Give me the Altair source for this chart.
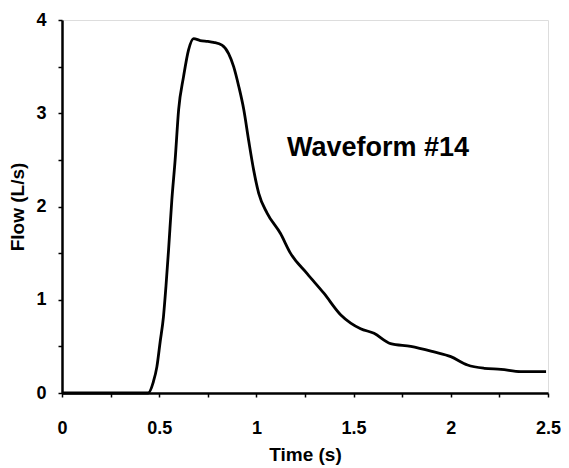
import altair as alt
import pandas as pd

# Flow waveform
time_s = [0.0, 0.1, 0.2, 0.3, 0.4, 0.443, 0.47, 0.488, 0.505, 0.522, 0.535, 0.548,
          0.565, 0.582, 0.6, 0.625, 0.651, 0.677, 0.711, 0.75, 0.78, 0.823, 0.857,
          0.883, 0.909, 0.935, 0.96, 0.986, 1.012, 1.055, 1.124, 1.175, 1.261, 1.347,
          1.433, 1.485, 1.536, 1.605, 1.69, 1.794, 1.914, 2.0, 2.086, 2.172, 2.258,
          2.36, 2.49]
flow_ls = [0.0, 0.0, 0.0, 0.0, 0.0, 0.0, 0.12, 0.28, 0.55, 0.82, 1.15, 1.53,
           2.07, 2.5, 3.04, 3.39, 3.68, 3.8, 3.78, 3.77, 3.76, 3.73, 3.64,
           3.5, 3.29, 3.04, 2.71, 2.39, 2.14, 1.93, 1.71, 1.5, 1.28, 1.07,
           0.84, 0.75, 0.69, 0.64, 0.53, 0.50, 0.44, 0.39, 0.30, 0.265, 0.254,
           0.23, 0.23]

x_ticks = [0, 0.25, 0.5, 0.75, 1, 1.25, 1.5, 1.75, 2, 2.25, 2.5]
y_ticks = [0, 0.5, 1, 1.5, 2, 2.5, 3, 3.5, 4]

label_text = ["Waveform #14"]
label_time = [1.626]
label_flow = [2.63]

FONT = "Liberation Sans"

df = pd.DataFrame({"t": time_s, "f": flow_ls})
lab = pd.DataFrame({"text": label_text, "t": label_time, "f": label_flow})

x_enc = alt.X(
    "t:Q",
    scale=alt.Scale(domain=[0, 2.5], nice=False, zero=False),
    axis=alt.Axis(
        title="Time (s)", values=x_ticks, grid=False,
        labelExpr="datum.value % 0.5 == 0 ? format(datum.value, '~g') : ''",
        tickSize=4, labelPadding=22, titlePadding=8,
        labelFont=FONT, labelFontSize=18, labelFontWeight="bold",
        titleFont=FONT, titleFontSize=19, titleFontWeight="bold",
        domainColor="black", domainWidth=2.5, tickColor="black", tickWidth=1.5,
        labelColor="black", titleColor="black", labelFlush=False,
    ),
)
y_enc = alt.Y(
    "f:Q",
    scale=alt.Scale(domain=[0, 4], nice=False),
    axis=alt.Axis(
        title="Flow (L/s)", values=y_ticks, grid=False,
        labelExpr="datum.value % 1 == 0 ? format(datum.value, '~g') : ''",
        tickSize=4, labelPadding=12, titlePadding=8,
        labelFont=FONT, labelFontSize=18, labelFontWeight="bold",
        titleFont=FONT, titleFontSize=19, titleFontWeight="bold",
        domainColor="black", domainWidth=2.5, tickColor="black", tickWidth=1.5,
        labelColor="black", titleColor="black", labelFlush=False,
    ),
)

line = alt.Chart(df).mark_line(
    color="black", strokeWidth=2.8, interpolate="monotone"
).encode(x=x_enc, y=y_enc)

text = alt.Chart(lab).mark_text(
    font=FONT, fontSize=27, fontWeight="bold", color="black",
    align="center", baseline="middle",
).encode(x="t:Q", y="f:Q", text="text:N")

chart = alt.layer(line, text).properties(
    width=486, height=373,
    autosize=alt.AutoSizeParams(type="none"),
    padding={"left": 54, "top": 12, "right": 13, "bottom": 75},
).configure_view(stroke=None).configure(background="white")

chart.save("out.html", embed_options={"renderer": "svg", "actions": False})
